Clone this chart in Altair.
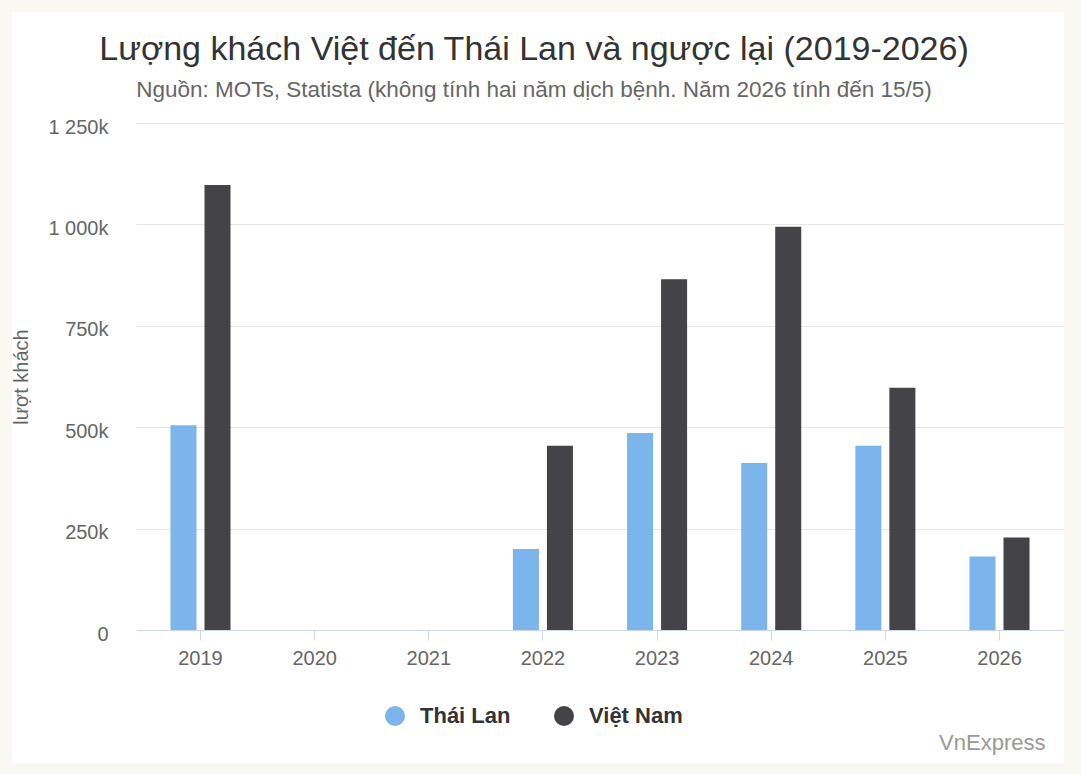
import altair as alt
import pandas as pd

years = ["2019", "2020", "2021", "2022", "2023", "2024", "2025", "2026"]
series_names = ["Thái Lan", "Việt Nam"]
thai_values = [505000, None, None, 200000, 486000, 412000, 454000, 181000]
vn_values = [1097000, None, None, 454000, 865000, 994000, 597000, 228000]
colors = ["#7cb5ec", "#434348"]
y_ticks = [0, 250000, 500000, 750000, 1000000, 1250000]

rows = []
for y, t, v in zip(years, thai_values, vn_values):
    rows.append({"year": y, "series": series_names[0], "value": t})
    rows.append({"year": y, "series": series_names[1], "value": v})
df = pd.DataFrame(rows)

FONT = "Liberation Sans"
PL, PT = 136, 123
W, H = 928, 507

bars = alt.Chart(df).mark_bar().encode(
    x=alt.X(
        "year:N",
        scale=alt.Scale(domain=years, paddingInner=0.474, paddingOuter=0.302),
        axis=alt.Axis(
            title="VnExpress",
            titleFont=FONT, titleFontSize=22, titleFontWeight="normal",
            titleColor="#999999", titleAnchor="end", titleAlign="right",
            titleX=1045 - PL, titleY=749 - 630, titleBaseline="alphabetic",
            labelAngle=0, labelFont=FONT, labelFontSize=20, labelColor="#666666",
            labelPadding=8, domainColor="#ccd6eb", tickColor="#ccd6eb",
            tickSize=10, grid=False,
        ),
    ),
    xOffset=alt.XOffset(
        "series:N",
        scale=alt.Scale(domain=series_names, paddingInner=0.235, paddingOuter=0),
    ),
    y=alt.Y(
        "value:Q",
        scale=alt.Scale(domain=[0, 1250000], nice=False),
        axis=alt.Axis(
            values=y_ticks,
            labelExpr="datum.value == 0 ? '0' : replace(format(datum.value / 1000, ','), ',', ' ') + 'k'",
            title="lượt khách", titleFont=FONT, titleFontSize=20,
            titleFontWeight="normal", titleColor="#666666", titlePadding=16,
            labelFont=FONT, labelFontSize=20, labelColor="#666666",
            labelPadding=28, labelOffset=4,
            domain=False, ticks=False, gridColor="#e6e6e6", gridWidth=1,
        ),
    ),
    color=alt.Color(
        "series:N",
        scale=alt.Scale(domain=series_names, range=colors),
        legend=alt.Legend(
            title=None, orient="none", direction="horizontal",
            legendX=384 - PL, legendY=705 - PT,
            symbolType="circle", symbolSize=400, symbolStrokeWidth=0,
            labelFont=FONT, labelFontSize=22, labelFontWeight="bold",
            labelColor="#333333", labelOffset=14, columnPadding=42,
        ),
    ),
)

frame_df = pd.DataFrame({"k": [0]})
frame = alt.Chart(frame_df).mark_rect(
    fillOpacity=0, stroke="#faf8f2", strokeWidth=24
).encode(
    x=alt.value(0 - PL), x2=alt.value(1076 - PL),
    y=alt.value(0 - PT), y2=alt.value(775 - PT),
)

chart = alt.layer(bars, frame).properties(
    width=W, height=H,
    padding={"left": PL, "top": PT, "right": 1081 - PL - W, "bottom": 774 - PT - H},
    autosize=alt.AutoSizeParams(type="none"),
    background="#ffffff",
    title=alt.TitleParams(
        text="Lượng khách Việt đến Thái Lan và ngược lại (2019-2026)",
        subtitle="Nguồn: MOTs, Statista (không tính hai năm dịch bệnh. Năm 2026 tính đến 15/5)",
        font=FONT, fontSize=34, fontWeight="normal", color="#333333",
        subtitleFont=FONT, subtitleFontSize=22.5, subtitleColor="#666666",
        subtitlePadding=12, anchor="middle", frame="group",
        dx=534 - (PL + W / 2), dy=113, offset=0,
    ),
).configure_view(stroke=None)

chart.save("out.html", embed_options={"renderer": "svg", "actions": False})
